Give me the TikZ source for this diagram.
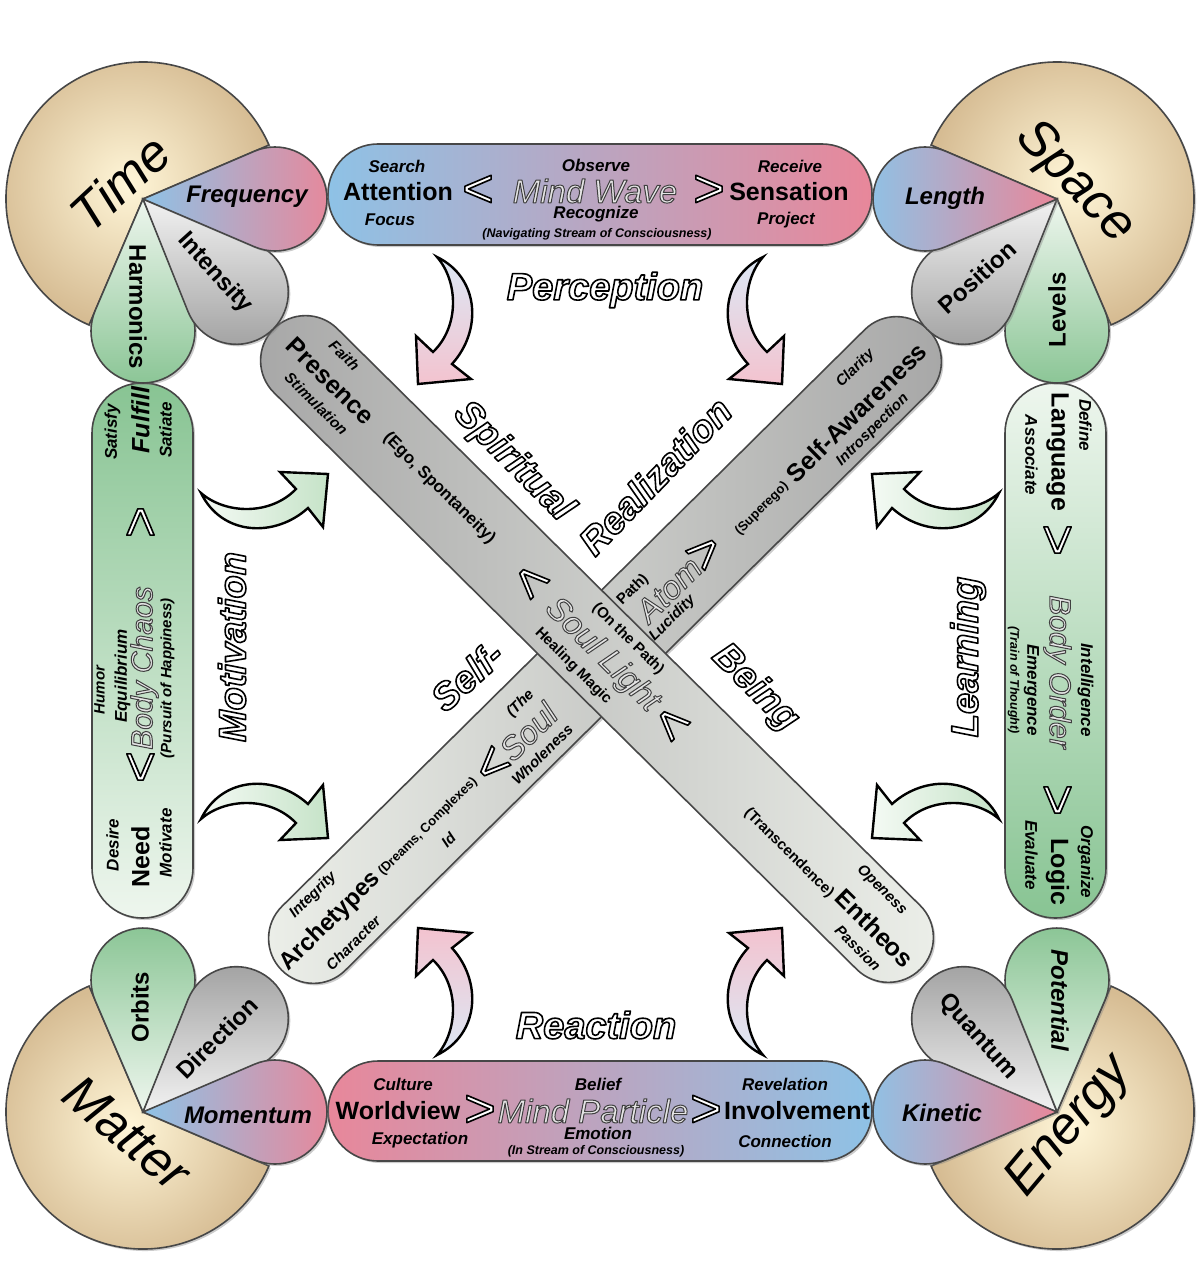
\documentclass[tikz,border=0pt]{standalone}
\usepackage{fontspec}
\setmainfont{Liberation Sans}
\usetikzlibrary{shadows}
\definecolor{blu}{HTML}{8EC2E6}
\definecolor{pnk}{HTML}{E8879A}
\definecolor{grnD}{HTML}{88C493}
\definecolor{grnL}{HTML}{EEF6EE}
\definecolor{gryD}{HTML}{A0A0A0}
\definecolor{gryL}{HTML}{F2F2F2}
\definecolor{begO}{HTML}{D6BC93}
\definecolor{begI}{HTML}{FFF6D8}
\definecolor{barD}{HTML}{A6A6A6}
\definecolor{barL}{HTML}{EDF0EA}
\definecolor{arG1}{HTML}{F4FAF4}
\definecolor{arG2}{HTML}{C6E3C8}
\definecolor{arB}{HTML}{DCE8F5}
\definecolor{arP}{HTML}{F3C3CF}
\newcommand\oltw[1]{{\color{white}\special{pdf:literal direct 2 Tr 1.6 w 0 G 1 j}#1\special{pdf:literal direct 0 Tr}}}
\newcommand\oltg[1]{{\color{black!10}\special{pdf:literal direct 2 Tr 1.0 w 0.25 G 1 j}#1\special{pdf:literal direct 0 Tr}}}
\newcommand\fB{\fontsize{25}{27}\selectfont\bfseries}
\newcommand\fS{\fontsize{17}{19}\selectfont\bfseries\itshape}
\newcommand\fs{\fontsize{15}{17}\selectfont\bfseries\itshape}
\newcommand\fsu{\fontsize{15}{17}\selectfont\bfseries}
\newcommand\fT{\fontsize{12.5}{14}\selectfont\bfseries\itshape}
\newcommand\fM{\fontsize{33}{35}\selectfont\itshape}
\newcommand\fMs{\fontsize{30}{32}\selectfont\itshape}
\newcommand\fC{\fontsize{52}{56}\selectfont\itshape}
\newcommand\fW{\fontsize{24}{26}\selectfont\bfseries}
\newcommand\fO{\fontsize{38}{40}\selectfont\bfseries\itshape}
\newcommand\fCh{\fontsize{54}{56}\selectfont}
\newcommand\tdrop[4]{\path[#4] (#1,#2) -- ++({#3-23.2}:121.3) arc[start angle={#3-113.2}, end angle={#3+113.2}, radius=52] -- cycle;}
\newcommand\pac[4]{\path[beige] (#1,#2) -- ++(#3:137) arc[start angle=#3, end angle=#4, radius=137] -- cycle;}
\newcommand\arrowpath{(-399,-163) .. controls (-375,-142) and (-330,-140) .. (-304,-167) -- (-320,-184) -- (-272,-182) -- (-277,-129) -- (-292,-148) .. controls (-325,-118) and (-378,-120) .. cycle}
\begin{document}
\begin{tikzpicture}[x=1pt,y=-1pt, every node/.style={inner sep=0pt, outer sep=0pt},
 edge/.style={draw=black!72, line width=1.6pt},
 shad/.style={drop shadow={shadow xshift=2pt, shadow yshift=-2pt, opacity=0.4}},
 piece/.style={edge, shad},
 beige/.style={piece, inner color=begI, outer color=begO},
 arrowst/.style={draw=black, line width=2.4pt, line join=miter, miter limit=6},
 garrow/.style={arrowst, left color=arG1, right color=arG2}]
\fill[white] (0,0) rectangle (1200,1279);
\useasboundingbox (0,0) rectangle (1200,1279);
% ---- diagonal bars
\begin{scope}[shift={(605,650)}, rotate=44.7]
 \path[piece, left color=barL, right color=barD, rounded corners=45pt] (-455,-45) rectangle (455,45);
\end{scope}
\begin{scope}[shift={(597,649)}, rotate=-44.7]
 \path[piece, left color=barD, right color=barL, rounded corners=45pt] (-455,-45) rectangle (455,45);
\end{scope}
% ---- side bars
\path[piece, top color=grnD, bottom color=grnL, rounded corners=50pt] (92,383) rectangle (193,918);
\path[piece, top color=grnL, bottom color=grnD, rounded corners=50pt] (1005,383) rectangle (1106,918);
\path[piece, left color=blu, right color=pnk, rounded corners=50pt] (328,144) rectangle (872,245);
\path[piece, left color=pnk, right color=blu, rounded corners=50pt] (328,1061) rectangle (872,1161);
% ---- corners
\pac{143}{199}{113.2}{336.8}
\tdrop{143}{199}{90}{piece, top color=grnL, bottom color=grnD}
\tdrop{143}{199}{45}{piece, top color=gryL, bottom color=gryD}
\tdrop{143}{199}{0}{piece, left color=blu, right color=pnk}
\pac{1057}{199}{203.2}{426.8}
\tdrop{1057}{199}{90}{piece, top color=grnL, bottom color=grnD}
\tdrop{1057}{199}{135}{piece, top color=gryL, bottom color=gryD}
\tdrop{1057}{199}{180}{piece, left color=blu, right color=pnk}
\pac{143}{1112}{23.2}{246.8}
\tdrop{143}{1112}{-90}{piece, top color=grnD, bottom color=grnL}
\tdrop{143}{1112}{-45}{piece, top color=gryD, bottom color=gryL}
\tdrop{143}{1112}{0}{piece, left color=blu, right color=pnk}
\pac{1057}{1112}{-66.8}{156.8}
\tdrop{1057}{1112}{-90}{piece, top color=grnD, bottom color=grnL}
\tdrop{1057}{1112}{-135}{piece, top color=gryD, bottom color=gryL}
\tdrop{1057}{1112}{180}{piece, left color=blu, right color=pnk}
% ---- curved arrows
\begin{scope}[shift={(600,656)}] \path[garrow] \arrowpath; \end{scope}
\begin{scope}[shift={(600,656)}, yscale=-1] \path[garrow] \arrowpath; \end{scope}
\begin{scope}[shift={(600,656)}, xscale=-1] \path[garrow] \arrowpath; \end{scope}
\begin{scope}[shift={(600,656)}, xscale=-1, yscale=-1] \path[garrow] \arrowpath; \end{scope}
\begin{scope}[shift={(600,656)}, yscale=-1, rotate=90] \path[arrowst, top color=arB, bottom color=arP] \arrowpath; \end{scope}
\begin{scope}[shift={(600,656)}, rotate=-90] \path[arrowst, top color=arB, bottom color=arP] \arrowpath; \end{scope}
\begin{scope}[shift={(600,656)}, rotate=90] \path[arrowst, top color=arP, bottom color=arB] \arrowpath; \end{scope}
\begin{scope}[shift={(600,656)}, xscale=-1, rotate=90] \path[arrowst, top color=arP, bottom color=arB] \arrowpath; \end{scope}
% ---- corner labels
\node[rotate=43] (time) at (120,183) {\fC Time};
\node[rotate=-46] (space) at (1075,183) {\fC Space};
\node[rotate=-40] (matter) at (127,1133) {\fC Matter};
\node[rotate=50] (energy) at (1070,1127) {\fC Energy};
\node (freq) at (247,197) {\fW\itshape Frequency};
\node[rotate=-48] (inten) at (215,273) {\fW Intensity};
\node[rotate=-90] (harm) at (138,307) {\fW Harmonics};
\node (length) at (945,198) {\fW\itshape Length};
\node[rotate=42] (posit) at (977,277) {\fW Position};
\node[rotate=90] (levels) at (1057,310) {\fW Levels};
\node[rotate=90] (orbits) at (140,1007) {\fW Orbits};
\node[rotate=45] (direc) at (217,1038) {\fW Direction};
\node (moment) at (248,1115) {\fW\itshape Momentum};
\node[rotate=-90] (potent) at (1060,1000) {\fW\itshape Potential};
\node[rotate=-48] (quant) at (978,1037) {\fW Quantum};
\node (kinet) at (942,1113) {\fW\itshape Kinetic};
% ---- top bar
\node (search) at (397,166) {\fS Search};
\node (attent) at (398,192) {\fB Attention};
\node (focus) at (390,220) {\fS Focus};
\node (tlt) at (478,191) {\fCh\oltw{<}};
\node (observe) at (596,165) {\fS Observe};
\node (mindwave) at (595,191) {\fM\oltg{Mind Wave}};
\node (recog) at (596,214) {\fS Recognize};
\node (navig) at (597,234) {\fT (Navigating Stream of Consciousness)};
\node (tgt) at (709,191) {\fCh\oltw{>}};
\node (receive) at (790,166) {\fS Receive};
\node (sensat) at (789,192) {\fB Sensation};
\node (project) at (786,220) {\fS Project};
% ---- bottom bar
\node (culture) at (403,1084) {\fS Culture};
\node (worldv) at (398,1111) {\fB Worldview};
\node (expect) at (420,1140) {\fS Expectation};
\node (bgt1) at (480,1111) {\fCh\oltw{>}};
\node (belief) at (598,1084) {\fS Belief};
\node (mindpart) at (593,1111) {\fM\oltg{Mind Particle}};
\node (emotion) at (598,1133) {\fS Emotion};
\node (instream) at (596,1151) {\fT (In Stream of Consciousness)};
\node (bgt2) at (706,1111) {\fCh\oltw{>}};
\node (revel) at (785,1084) {\fS Revelation};
\node (involv) at (797,1111) {\fB Involvement};
\node (connect) at (785,1141) {\fS Connection};
% ---- left bar
\begin{scope}[shift={(142.5,650)}, rotate=90, transform shape]
 \node (satisfy) at (218,-30) {\fS Satisfy};
 \node (fulfill) at (230,-2) {\fB\itshape Fulfill};
 \node (satiate) at (220,23) {\fS Satiate};
 \node (lgt) at (128,0) {\fCh\oltw{>}};
 \node (humor) at (-40,-43) {\fs Humor};
 \node (equil) at (-26,-20) {\fS Equilibrium};
 \node (bodychaos) at (-18,2) {\fMs\oltg{Body Chaos}};
 \node (pursuit) at (-28,25) {\fs (Pursuit of Happiness)};
 \node (llt) at (-117,0) {\fCh\oltw{<}};
 \node (desire) at (-195,-30) {\fS Desire};
 \node (need) at (-207,-2) {\fB Need};
 \node (motivate) at (-193,23) {\fS Motivate};
\end{scope}
% ---- right bar
\begin{scope}[shift={(1055.5,650)}, rotate=-90, transform shape]
 \node (define) at (-225,-30) {\fS Define};
 \node (language) at (-198,-2) {\fB Language};
 \node (associate) at (-195,24) {\fS Associate};
 \node (rgt1) at (-110,0) {\fCh\oltw{>}};
 \node (intell) at (40,-30) {\fS Intelligence};
 \node (bodyorder) at (22,-2) {\fMs\oltg{Body Order}};
 \node (emerg) at (40,24) {\fS Emergence};
 \node (train) at (30,42) {\fT (Train of Thought)};
 \node (rgt2) at (150,0) {\fCh\oltw{>}};
 \node (organize) at (212,-30) {\fS Organize};
 \node (logic) at (222,-2) {\fB Logic};
 \node (evaluate) at (205,24) {\fS Evaluate};
\end{scope}
% ---- bar 2 texts (Archetypes -> Self-Awareness)
\begin{scope}[shift={(605,650)}, rotate=44.7, transform shape]
 \node (integ) at (-380,-31) {\fs Integrity};
 \node (arch) at (-386,0) {\fontsize{24}{26}\selectfont\bfseries Archetypes};
 \node (charac) at (-385,31) {\fs Character};
 \node (dreams) at (-250,1) {\fontsize{13}{15}\selectfont\bfseries (Dreams, Complexes)};
 \node (id) at (-245,25) {\fs Id};
 \node (slt) at (-161,4) {\fCh\oltw{<}};
 \node (soul) at (-112,4) {\fM\oltg{Soul}};
 \node (the) at (-98,-21) {\fs (The};
 \node (whole) at (-118,30) {\fs Wholeness};
 \node (path) at (62,-23) {\fsu Path)};
 \node (atom) at (88,2) {\fM\oltg{Atom}};
 \node (lucid) at (70,25) {\fs Lucidity};
 \node (sgt) at (140,2) {\fCh\oltw{>}};
 \node (superego) at (211,10) {\fontsize{13}{15}\selectfont\bfseries (Superego)};
 \node (selfaw) at (346,8) {\fB Self-Awareness};
 \node (clarity) at (376,-24) {\fs Clarity};
 \node (intro) at (345,32) {\fs Introspection};
\end{scope}
% ---- bar 1 texts (Presence -> Entheos)
\begin{scope}[shift={(597,649)}, rotate=-44.7, transform shape]
 \node (faith) at (-386,-31) {\fs Faith};
 \node (presence) at (-378,-3) {\fB Presence};
 \node (ego) at (-225,-3) {\fontsize{17}{19}\selectfont\bfseries (Ego, Spontaneity)};
 \node (stimul) at (-372,23) {\fs Stimulation};
 \node (plt1) at (-95,0) {\fCh\oltw{<}};
 \node (onpath) at (15,-29) {\fsu (On the Path)};
 \node (soullight) at (8,1) {\fM\oltg{Soul Light}};
 \node (healing) at (-5,29) {\fsu Healing Magic};
 \node (plt2) at (105,2) {\fCh\oltw{<}};
 \node (transc) at (280,10) {\fsu (Transcendence)};
 \node (openess) at (372,-29) {\fs Openess};
 \node (entheos) at (394,3) {\fB Entheos};
 \node (passion) at (396,29) {\fs Passion};
\end{scope}
% ---- outlined process labels
\node (percep) at (605,290) {\fO\oltw{Perception}};
\node (react) at (596,1025) {\fO\oltw{Reaction}};
\node[rotate=90] (motiv) at (232,647) {\fO\oltw{Motivation}};
\node[rotate=90] (learn) at (968,657) {\fO\oltw{Learning}};
\node[rotate=-45] (spirit) at (513,462) {\fO\oltw{Spiritual}};
\node[rotate=46] (realiz) at (655,476) {\fO\oltw{Realization}};
\node[rotate=42] (selfdash) at (467,676) {\fO\oltw{Self-}};
\node[rotate=-45] (being) at (755,688) {\fO\oltw{Being}};
\end{tikzpicture}
\end{document}
